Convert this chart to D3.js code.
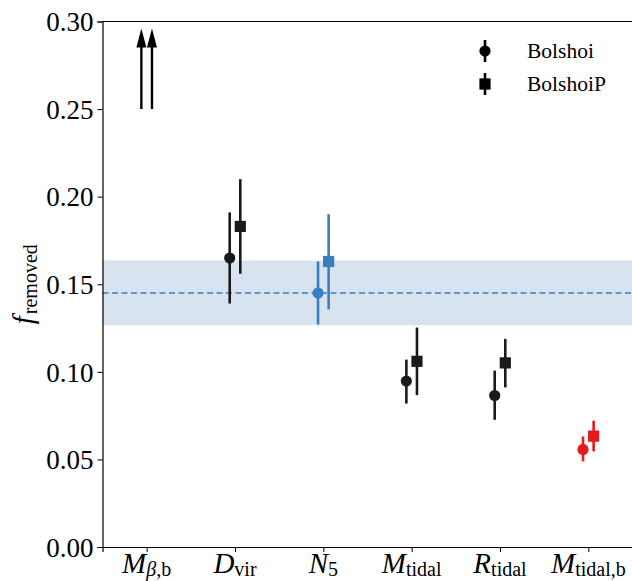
<!DOCTYPE html>
<html>
<head>
<meta charset="utf-8">
<script src="https://cdn.jsdelivr.net/npm/d3@7"></script>
<style>
  html, body { margin: 0; padding: 0; background: #fff; }
  svg { display: block; }
  text { font-family: "Liberation Serif", "DejaVu Serif", serif; }
</style>
</head>
<body>
<svg id="chart" width="632" height="581"></svg>
<script>
// ---- data ----
const catMain = ["M", "D", "N", "M", "R", "M"];
const catSub  = ["β,b", "vir", "5", "tidal", "tidal", "tidal,b"];
const series = ["Bolshoi", "BolshoiP"];
// Bolshoi (circles): value, lower, upper
const bolshoiVal = [null, 0.165, 0.145, 0.0947, 0.0865, 0.0557];
const bolshoiLo  = [null, 0.139, 0.127, 0.0819, 0.0726, 0.0489];
const bolshoiHi  = [null, 0.191, 0.163, 0.107, 0.1007, 0.0631];
// BolshoiP (squares)
const bolshoiPVal = [null, 0.183, 0.163, 0.106, 0.1051, 0.0633];
const bolshoiPLo  = [null, 0.156, 0.1357, 0.0867, 0.0911, 0.0546];
const bolshoiPHi  = [null, 0.210, 0.190, 0.1253, 0.1188, 0.0721];
// lower-limit arrows for first category
const arrowFrom = [0.25, 0.25];
const arrowTo   = [0.296, 0.296];
const catColors = ["#111111", "#1a1a1a", "#3a7dbf", "#1a1a1a", "#1a1a1a", "#e41a1c"];
const bandLo = 0.1266, bandHi = 0.1636, bandMid = 0.145;
const yTicks = [0, 0.05, 0.10, 0.15, 0.20, 0.25, 0.30];

// ---- layout ----
const FONT = "Liberation Serif, DejaVu Serif, serif";
const svg = d3.select("#chart");
const x = d3.scaleLinear().domain([-0.5, 5.5]).range([102.5, 632.5]);
const y = d3.scaleLinear().domain([0, 0.30]).range([547, 21.5]);
const off = 0.06;

// band
svg.append("rect")
  .attr("x", x(-0.5)).attr("width", x(5.5) - x(-0.5))
  .attr("y", y(bandHi)).attr("height", y(bandLo) - y(bandHi))
  .attr("fill", "#d7e4ef");
svg.append("line")
  .attr("x1", x(-0.5)).attr("x2", x(5.5))
  .attr("y1", y(bandMid)).attr("y2", y(bandMid))
  .attr("stroke", "#3a7dbf").attr("stroke-width", 1.6)
  .attr("stroke-dasharray", "6,3.5");

// axes
const yAxis = d3.axisLeft(y).tickValues(yTicks).tickFormat(d3.format(".2f")).tickSize(5).tickPadding(4);
const gy = svg.append("g").attr("transform", `translate(${x(-0.5)},0)`).call(yAxis);
gy.select(".domain").attr("stroke", "#000").attr("stroke-width", 1.2);
gy.selectAll(".tick line").attr("stroke", "#000").attr("stroke-width", 1);
gy.selectAll(".tick text").attr("font-size", 27).attr("fill", "#000")
  .attr("font-family", FONT).attr("dy", "0.34em");

const xAxis = d3.axisBottom(x).tickValues(d3.range(6)).tickFormat("").tickSize(5);
const gx = svg.append("g").attr("transform", `translate(0,${y(0)})`).call(xAxis);
gx.select(".domain").attr("stroke", "#000").attr("stroke-width", 1.2);
gx.selectAll(".tick line").attr("stroke", "#000").attr("stroke-width", 1);

// top spine
svg.append("line").attr("x1", x(-0.5)).attr("x2", x(5.5))
  .attr("y1", y(0.30)).attr("y2", y(0.30)).attr("stroke", "#000").attr("stroke-width", 1.2);

// x category labels
d3.range(6).forEach(i => {
  const t = svg.append("text")
    .attr("x", x(i)).attr("y", 573)
    .attr("text-anchor", "middle").attr("fill", "#000").attr("font-family", FONT);
  t.append("tspan").attr("font-size", 29).attr("font-style", "italic").text(catMain[i]);
  const sub = t.append("tspan").attr("font-size", 20).attr("dy", 3);
  if (catSub[i].startsWith("β")) {
    sub.append("tspan").attr("font-style", "italic").text("β");
    t.append("tspan").attr("font-size", 20).text(",b");
  } else {
    sub.text(catSub[i]);
  }
});

// y label
const yl = svg.append("text")
  .attr("transform", `translate(33,${y(0.15)}) rotate(-90)`)
  .attr("text-anchor", "middle").attr("fill", "#000").attr("font-family", FONT);
yl.append("tspan").attr("font-size", 29).attr("font-style", "italic").text("f");
yl.append("tspan").attr("font-size", 20).attr("dy", 4).attr("dx", 2).text("removed");

// arrows (lower limits)
arrowFrom.forEach((v, k) => {
  const xx = x(0 + (k === 0 ? -off : off));
  const tip = y(arrowTo[k]);
  const base = y(arrowFrom[k]);
  const headH = 19, headW = 10;
  svg.append("line").attr("x1", xx).attr("x2", xx)
    .attr("y1", base).attr("y2", tip + headH - 1)
    .attr("stroke", "#000").attr("stroke-width", 2.4);
  svg.append("path")
    .attr("d", `M${xx},${tip} L${xx - headW/2},${tip + headH} L${xx + headW/2},${tip + headH} Z`)
    .attr("fill", "#000");
});

// error bars and markers
function drawSeries(vals, lo, hi, dx, shape) {
  d3.range(6).forEach(i => {
    if (vals[i] == null) return;
    const xx = x(i + dx);
    const c = catColors[i];
    svg.append("line").attr("x1", xx).attr("x2", xx)
      .attr("y1", y(lo[i])).attr("y2", y(hi[i]))
      .attr("stroke", c).attr("stroke-width", 2.6);
    if (shape === "circle") {
      svg.append("circle").attr("cx", xx).attr("cy", y(vals[i])).attr("r", 5.6).attr("fill", c);
    } else {
      svg.append("rect").attr("x", xx - 5.6).attr("y", y(vals[i]) - 5.6)
        .attr("width", 11.2).attr("height", 11.2).attr("fill", c);
    }
  });
}
drawSeries(bolshoiVal, bolshoiLo, bolshoiHi, -off, "circle");
drawSeries(bolshoiPVal, bolshoiPLo, bolshoiPHi, off, "square");

// legend
const legY = [51, 84];
series.forEach((name, k) => {
  const lx = 485, ly = legY[k];
  svg.append("line").attr("x1", lx).attr("x2", lx).attr("y1", ly - 11).attr("y2", ly + 11)
    .attr("stroke", "#000").attr("stroke-width", 2.6);
  if (k === 0) svg.append("circle").attr("cx", lx).attr("cy", ly).attr("r", 5.6).attr("fill", "#000");
  else svg.append("rect").attr("x", lx - 5.6).attr("y", ly - 5.6).attr("width", 11.2).attr("height", 11.2).attr("fill", "#000");
  svg.append("text").attr("x", 527).attr("y", ly + 7).attr("font-size", 21.5)
    .attr("font-family", FONT).attr("fill", "#000").text(name);
});
</script>
</body>
</html>
